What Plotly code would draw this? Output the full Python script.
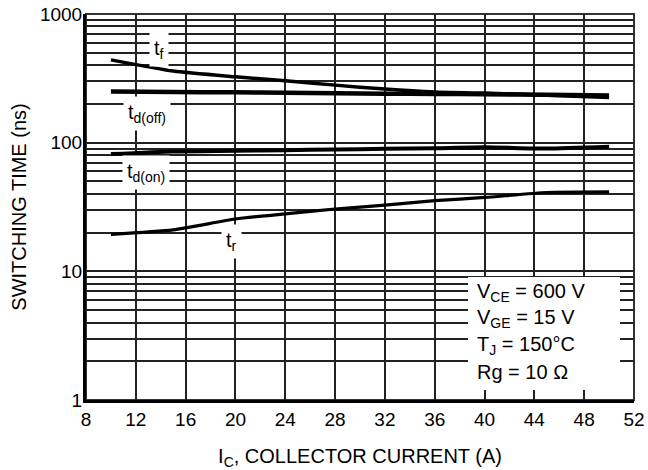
import math
import plotly.graph_objects as go

# Data
ic = [10, 15, 20, 24, 28, 32, 36, 40, 45, 50]
t_f = [440, 360, 325, 303, 280, 261, 248, 243, 234, 224]
t_doff = [250, 248, 246, 244, 242, 240, 239, 238, 236, 233]
t_don = [81.5, 85.5, 86.5, 87.5, 88.5, 89.5, 90.5, 92, 90, 93]
t_r = [19.4, 21, 25.5, 28, 30.5, 32.7, 35.4, 37.5, 41, 41.5]

x_ticks = [8, 12, 16, 20, 24, 28, 32, 36, 40, 44, 48, 52]
y_tickvals = [1, 10, 100, 1000]
y_ticktext = ["1", "10", "100", "1000"]

FONT = "Liberation Sans, Arial, sans-serif"

fig = go.Figure()
for y, w in [(t_f, 3.5), (t_doff, 4.5), (t_don, 4), (t_r, 3.2)]:
    fig.add_trace(go.Scatter(x=ic, y=y, mode="lines",
                             line=dict(color="black", width=w, shape="spline", smoothing=0.6),
                             showlegend=False, hoverinfo="skip"))

# curve labels
labels = [
    ("t<sub>f</sub>", 13.9, 533),
    ("t<sub>d(off)</sub>", 12.9, 170),
    ("t<sub>d(on)</sub>", 12.85, 58.4),
    ("t<sub>r</sub>", 19.7, 17),
]
for txt, xx, yy in labels:
    fig.add_annotation(x=xx, y=math.log10(yy), text=txt, showarrow=False,
                       bgcolor="white", borderpad=4,
                       font=dict(family=FONT, size=20, color="black"))

# conditions box (plot area in window pixels: x 86..634, y 14..400)
fig.add_shape(type="rect", xref="paper", yref="paper",
              x0=(468 - 86) / 548, x1=(620 - 86) / 548,
              y0=(400 - 390) / 386, y1=(400 - 277) / 386,
              fillcolor="white", line=dict(width=0), layer="above")
cond = ["V<sub>CE</sub> = 600 V", "V<sub>GE</sub> = 15 V", "T<sub>J</sub> = 150°C", "Rg = 10 Ω"]
for i, c in enumerate(cond):
    fig.add_annotation(xref="paper", yref="paper", x=(475 - 86) / 548,
                       y=(400 - (292 + i * 26.7)) / 386, xanchor="left", yanchor="middle",
                       text=c, showarrow=False, align="left",
                       font=dict(family=FONT, size=20, color="black"))

fig.update_xaxes(range=[8, 52], tickvals=x_ticks, showgrid=True, gridcolor="#222",
                 gridwidth=1.5, showline=True, linecolor="black", linewidth=3,
                 ticks="", zeroline=False, automargin=False, ticklabeloverflow="allow",
                 tickfont=dict(family=FONT, size=19, color="black"),
                 title=dict(text="I<sub>C</sub>, COLLECTOR CURRENT (A)", standoff=22,
                            font=dict(family=FONT, size=20, color="black")))
fig.update_yaxes(type="log", range=[0, 3], tickvals=y_tickvals, ticktext=y_ticktext,
                 showgrid=True, gridcolor="#222", gridwidth=1.5,
                 minor=dict(dtick="D1", showgrid=True, gridcolor="#222", gridwidth=1.5),
                 showline=True, linecolor="black", linewidth=3, ticks="", zeroline=False,
                 automargin=False, ticklabelstandoff=-3, ticklabeloverflow="allow",
                 tickfont=dict(family=FONT, size=19, color="black"),
                 title=dict(text="SWITCHING TIME (ns)", standoff=8,
                            font=dict(family=FONT, size=20, color="black")))

# thin top/right border
fig.add_shape(type="rect", xref="paper", yref="paper", x0=0, x1=1, y0=0, y1=1,
              line=dict(color="#333", width=2), layer="between")

fig.update_layout(width=648, height=470, margin=dict(l=86, r=14, t=14, b=70),
                  plot_bgcolor="white", paper_bgcolor="white")

# remove the default page margin so the figure fills the 648x470 window
fig.write_html("out.html", config={"displayModeBar": False},
               post_script="document.body.style.margin='0';document.body.style.overflow='hidden';")
